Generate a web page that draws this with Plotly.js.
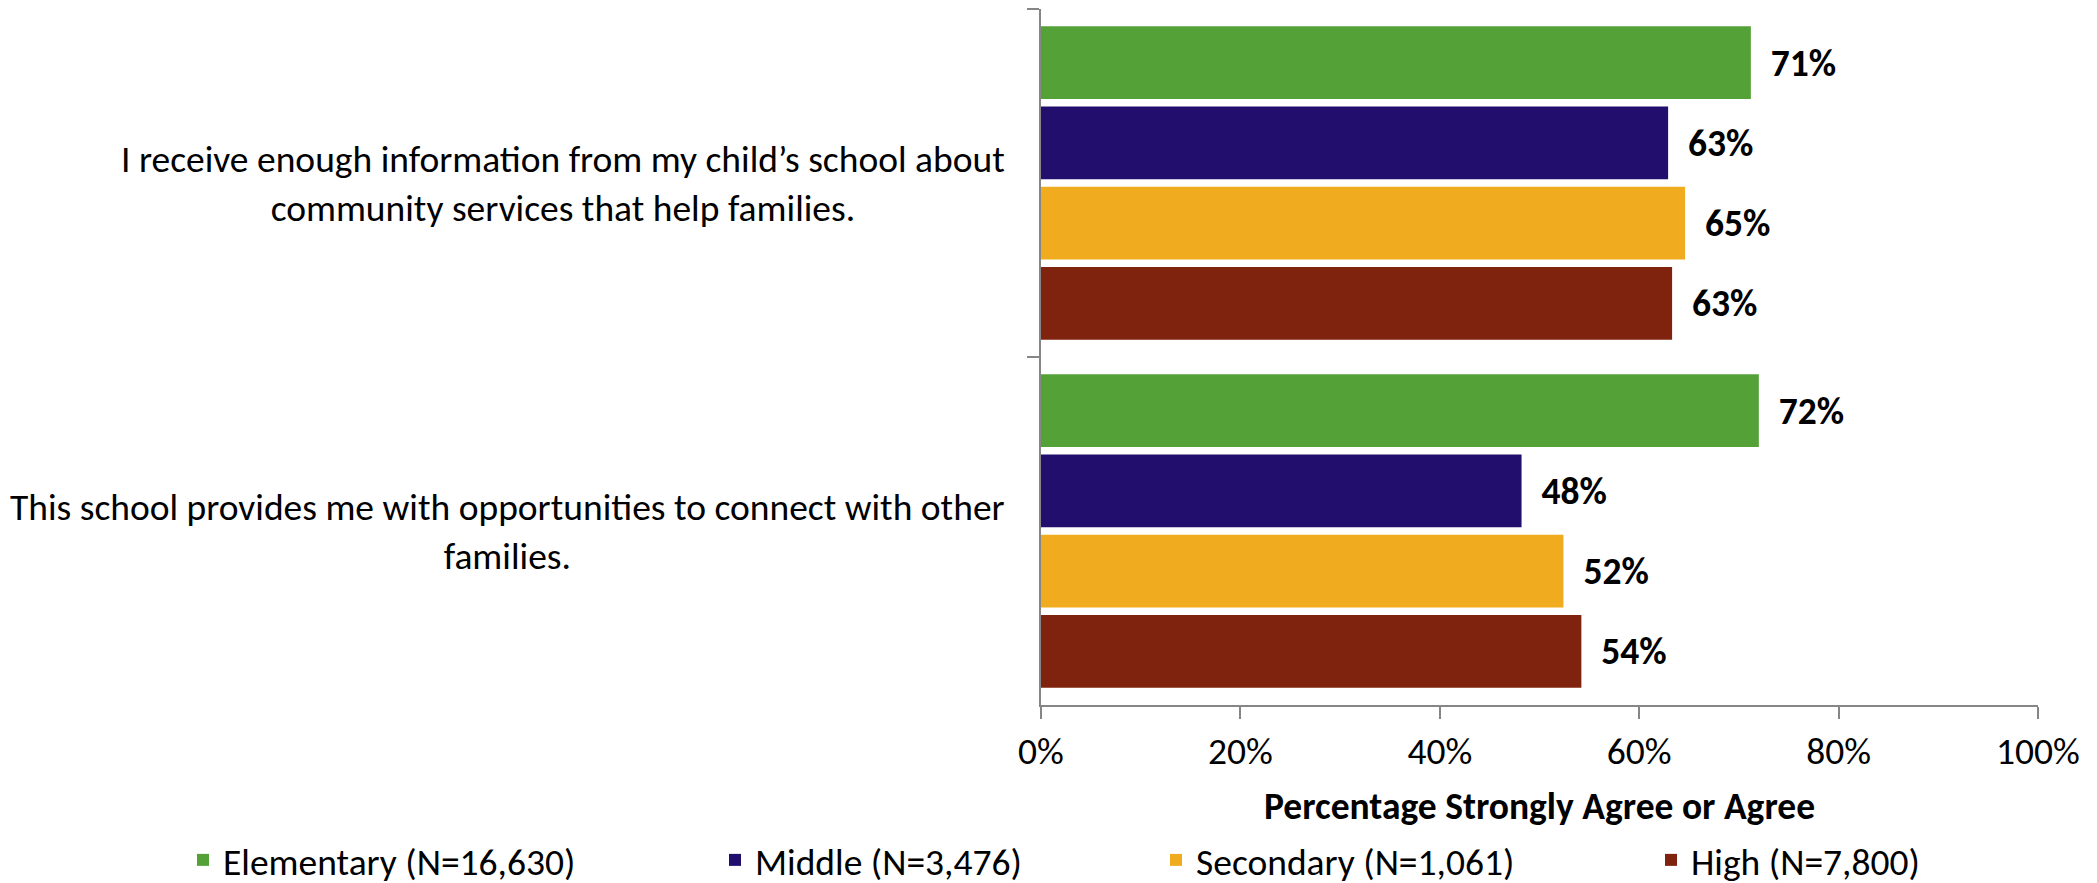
<!DOCTYPE html>
<html>
<head>
<meta charset="utf-8">
<script src="https://cdn.plot.ly/plotly-3.0.1.min.js"></script>
<style>
  html, body { margin: 0; padding: 0; background: #ffffff; }
  #chart { width: 2097px; height: 883px; }
</style>
</head>
<body>
<div id="chart"></div>
<script>
// ---------------- data ----------------
const categories = [
  "I receive enough information from my child’s school about<br>community services that help families.",
  "This school provides me with opportunities to connect with other<br>families."
];
const seriesNames = ["Elementary (N=16,630)", "Middle (N=3,476)", "Secondary (N=1,061)", "High (N=7,800)"];
const elementary = [71.2, 72.0];
const middle = [62.9, 48.2];
const secondary = [64.6, 52.4];
const high = [63.3, 54.2];
const xTickValues = [0, 20, 40, 60, 80, 100];
const xTickLabels = ["0%", "20%", "40%", "60%", "80%", "100%"];
const xTitle = "Percentage Strongly Agree or Agree";

const seriesValues = [elementary, middle, secondary, high];
const seriesColors = ["#54A138", "#210E6D", "#F0AC1E", "#80230E"];

// ---------------- font choice ----------------
function fontAvailable(name) {
  const ctx = document.createElement('canvas').getContext('2d');
  const s = 'abcdefghijklmnopqrstuvwxyz ABCDEFG 0123456789%';
  ctx.font = '40px monospace'; const m1 = ctx.measureText(s).width;
  ctx.font = '40px serif'; const s1 = ctx.measureText(s).width;
  ctx.font = '40px "' + name + '", monospace'; const m2 = ctx.measureText(s).width;
  ctx.font = '40px "' + name + '", serif'; const s2 = ctx.measureText(s).width;
  return m1 !== m2 || s1 !== s2;
}
const candidates = ['Carlito', 'Calibri', 'Liberation Sans Narrow', 'Lato', 'Open Sans'];
let FONT = 'Open Sans';
for (const c of candidates) { if (fontAvailable(c)) { FONT = c; break; } }
const ctx = document.createElement('canvas').getContext('2d');
ctx.font = '36px "' + FONT + '"';
const refW = ctx.measureText("I receive enough information from my child’s school about").width;
let scale = 883 / refW;
const FS = Math.round(36 * scale * 10) / 10;

const AXIS_COLOR = '#868686';
const L = 1040.5, R = 2038, T = 9, B = 705, W = 2097, H = 883;

// ---------------- traces ----------------
const traces = seriesNames.map((name, i) => ({
  type: 'bar',
  orientation: 'h',
  name: name,
  y: categories,
  x: seriesValues[i],
  marker: { color: seriesColors[i] },
  texttemplate: '\u00a0\u00a0%{x:.0f}%',
  textposition: 'outside',
  constraintext: 'none',
  cliponaxis: false,
  textfont: { family: FONT, size: FS, color: '#000000', weight: 'bold' },
  legend: i === 0 ? 'legend' : 'legend' + (i + 1),
  hoverinfo: 'x+name'
}));

// legend text start positions (container px)
const legendTextStart = [225, 757, 1198, 1693];
const legendCenterY = 860;

const layout = {
  width: W, height: H,
  paper_bgcolor: '#ffffff', plot_bgcolor: '#ffffff',
  margin: { l: L, r: W - R, t: T, b: H - B, pad: 0 },
  font: { family: FONT, size: FS, color: '#000000' },
  barmode: 'group',
  bargap: 0.077,
  bargroupgap: 0.095,
  showlegend: true,
  xaxis: {
    range: [0, 100],
    tickmode: 'array',
    tickvals: xTickValues,
    ticktext: xTickLabels,
    ticks: 'outside', ticklen: 12, tickwidth: 2, tickcolor: AXIS_COLOR,
    showline: true, linecolor: AXIS_COLOR, linewidth: 2,
    showgrid: false, zeroline: false,
    tickfont: { family: FONT, size: FS, color: '#000000' },
    title: { text: xTitle, font: { family: FONT, size: FS, color: '#000000', weight: 'bold' }, standoff: 20 },
    fixedrange: true
  },
  yaxis: {
    type: 'category',
    autorange: 'reversed',
    tickson: 'boundaries',
    ticks: 'outside', ticklen: 12, tickwidth: 2, tickcolor: AXIS_COLOR,
    showline: true, linecolor: AXIS_COLOR, linewidth: 2,
    showgrid: false, zeroline: false,
    showticklabels: false,
    fixedrange: true
  },
  annotations: categories.map(c => ({
    xref: 'paper', yref: 'y',
    x: (1006 - L) / (R - L), y: c,
    xanchor: 'right', yanchor: 'middle', align: 'center',
    text: c, showarrow: false,
    font: { family: FONT, size: FS, color: '#000000' }
  }))
};
seriesNames.forEach((n, i) => {
  const key = i === 0 ? 'legend' : 'legend' + (i + 1);
  layout[key] = {
    xref: 'container', yref: 'container',
    x: (legendTextStart[i] - 42) / W, y: 1 - legendCenterY / H,
    xanchor: 'left', yanchor: 'middle',
    orientation: 'h', bgcolor: 'rgba(0,0,0,0)', borderwidth: 0,
    font: { family: FONT, size: FS, color: '#000000' }
  };
});

Plotly.newPlot('chart', traces, layout, { displayModeBar: false, staticPlot: true });
</script>
</body>
</html>
